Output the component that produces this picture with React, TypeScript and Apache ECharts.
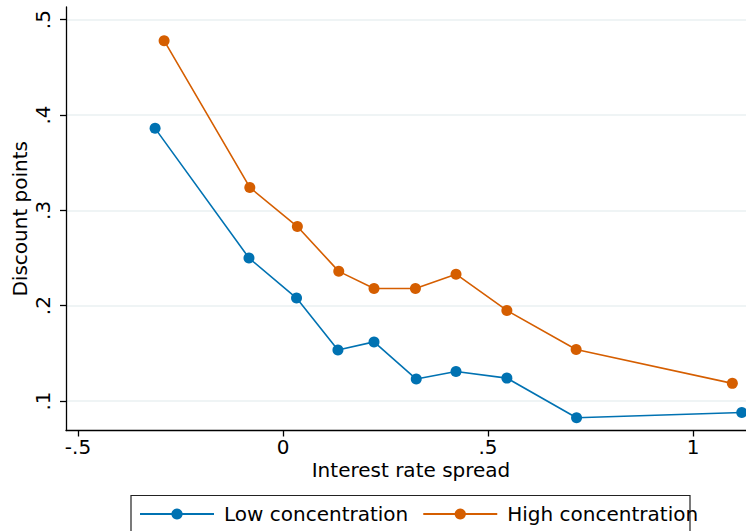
import React, { useEffect, useRef } from "react";
import * as echarts from "echarts";

const lowX = [-0.312, -0.083, 0.033, 0.134, 0.222, 0.325, 0.422, 0.546, 0.716, 1.119];
const lowY = [0.386, 0.25, 0.208, 0.1535, 0.162, 0.123, 0.131, 0.124, 0.0825, 0.088];
const highX = [-0.29, -0.081, 0.035, 0.136, 0.222, 0.323, 0.422, 0.546, 0.715, 1.096];
const highY = [0.478, 0.324, 0.283, 0.236, 0.218, 0.218, 0.233, 0.195, 0.154, 0.1185];
const xTicks = [-0.5, 0, 0.5, 1];
const yTicks = [0.1, 0.2, 0.3, 0.4, 0.5];
const seriesNames = ["Low concentration", "High concentration"];
const colors = ["#0072B2", "#D55E00"];

const fmt = (v: number) => {
  if (Math.abs(v) < 1e-9) return "0";
  let s = String(Math.round(v * 100) / 100);
  s = s.replace(/^0\./, ".").replace(/^-0\./, "-.");
  return s;
};

const FONT = "DejaVu Sans";

export default function App() {
  const ref = useRef<HTMLDivElement>(null);
  useEffect(() => {
    if (!ref.current) return;
    const chart = echarts.init(ref.current, null, { renderer: "svg" });
    const mk = (xs: number[], ys: number[]) => xs.map((x, i) => [x, ys[i]]);
    chart.setOption({
      animation: false,
      backgroundColor: "#ffffff",
      textStyle: { fontFamily: FONT, color: "#000" },
      grid: {
        left: 66,
        right: 0,
        top: 7,
        bottom: 100.5,
        containLabel: false,
        outerBoundsMode: "none",
      },
      xAxis: {
        type: "value",
        min: -0.5293,
        max: 1.1293,
        name: "Interest rate spread",
        nameLocation: "middle",
        nameGap: 29,
        nameMoveOverlap: false,
        nameTextStyle: { fontFamily: FONT, fontSize: 20, color: "#000", padding: [0, 0, 0, 10] },
        axisLine: { show: true, onZero: false, lineStyle: { color: "#000", width: 1.3 } },
        axisTick: { show: true, length: 6, customValues: xTicks, lineStyle: { color: "#000", width: 1.3 } },
        axisLabel: {
          customValues: xTicks,
          formatter: (v: number) => fmt(v),
          fontFamily: FONT,
          fontSize: 20,
          color: "#000",
          margin: 6,
        },
        splitLine: { show: false },
      },
      yAxis: {
        type: "value",
        min: 0.06906,
        max: 0.5133,
        name: "Discount points",
        nameLocation: "middle",
        nameGap: 36,
        nameMoveOverlap: false,
        nameRotate: 90,
        nameTextStyle: { fontFamily: FONT, fontSize: 20, color: "#000" },
        axisLine: { show: true, onZero: false, lineStyle: { color: "#000", width: 1.3 } },
        axisTick: { show: true, length: 6, customValues: yTicks, lineStyle: { color: "#000", width: 1.3 } },
        axisLabel: {
          customValues: yTicks,
          formatter: (v: number) => fmt(v),
          fontFamily: FONT,
          fontSize: 20,
          color: "#000",
          rotate: 90,
          margin: 13,
        },
        splitLine: {
          show: true,
          customValues: yTicks,
          lineStyle: { color: "#eaf1f2", width: 1.5 },
        },
      },
      legend: {
        show: true,
        left: 139,
        top: 504,
        padding: 0,
        itemWidth: 74,
        itemHeight: 14,
        itemGap: 14,
        textStyle: { fontFamily: FONT, fontSize: 20, color: "#000", lineHeight: 20, padding: [0, 0, 0, 5] },
        data: seriesNames,
      },
      graphic: [
        {
          type: "rect",
          shape: { x: 131, y: 495.5, width: 559, height: 60 },
          style: { fill: "none", stroke: "#222", lineWidth: 1.2 },
          silent: true,
          z: 0,
        },
      ],
      series: [
        {
          name: seriesNames[0],
          type: "line",
          data: mk(lowX, lowY),
          symbol: "circle",
          symbolSize: 11,
          showSymbol: true,
          clip: false,
          color: colors[0],
          lineStyle: { color: colors[0], width: 1.6 },
          itemStyle: { color: colors[0] },
        },
        {
          name: seriesNames[1],
          type: "line",
          data: mk(highX, highY),
          symbol: "circle",
          symbolSize: 11,
          showSymbol: true,
          clip: false,
          color: colors[1],
          lineStyle: { color: colors[1], width: 1.6 },
          itemStyle: { color: colors[1] },
        },
      ],
    });
    return () => chart.dispose();
  }, []);
  return (
    <div
      ref={ref}
      style={{ position: "fixed", left: 0, top: 0, width: 746, height: 531 }}
    />
  );
}
